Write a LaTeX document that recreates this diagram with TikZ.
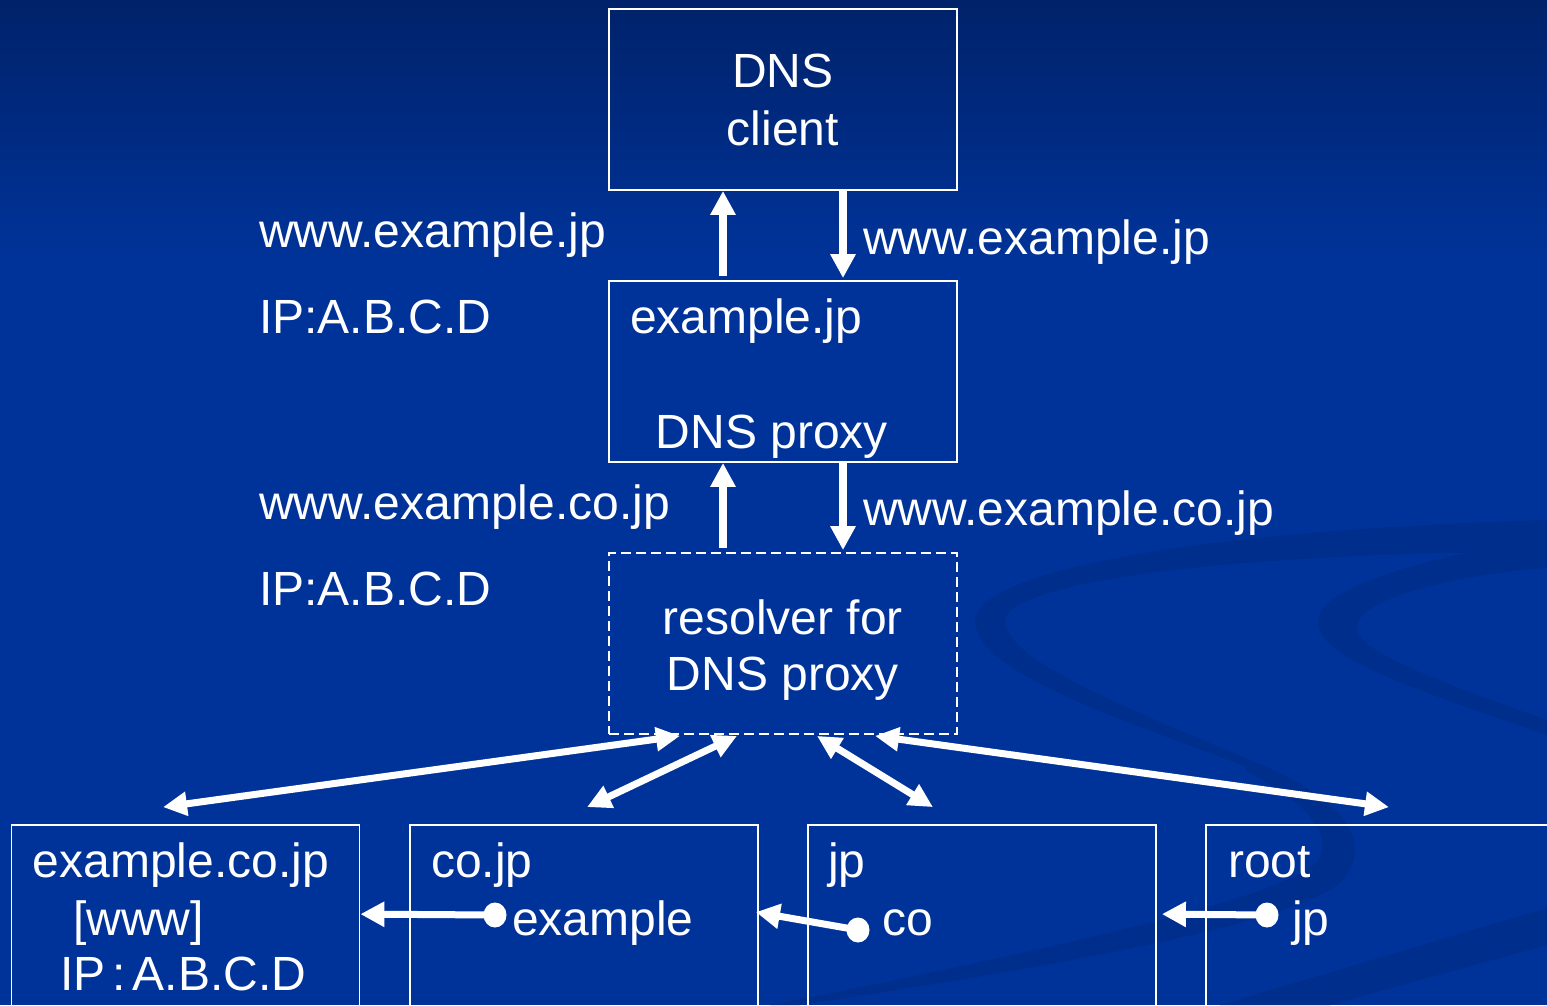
\documentclass[tikz,border=0pt]{standalone}
\usepackage{fontspec}
\setmainfont{Liberation Sans}
\usetikzlibrary{arrows.meta,calc,shapes.geometric}
\definecolor{bg}{RGB}{0,51,153}
\definecolor{bgtop}{RGB}{0,34,106}
\definecolor{sw}{RGB}{0,46,141}
\begin{document}
\begin{tikzpicture}[x=1pt,y=-1pt,
  box/.style={draw=white,line width=1.8pt,minimum width=348pt,minimum height=181pt,inner sep=0pt,text=white,align=center,font=\fontsize{48}{58}\selectfont},
  lowbox/.style={box,minimum height=220pt},
  lbl/.style={text=white,inner sep=0pt,font=\fontsize{48}{57}\selectfont},
  arr/.style={white,line width=8pt,-{Triangle[length=24pt,width=24pt]}},
  darr/.style={white,line width=7pt,{Triangle[length=24pt,width=23pt]}-{Triangle[length=24pt,width=23pt]}},
  dot/.style={ellipse,fill=white,minimum width=23pt,minimum height=25pt,inner sep=0pt}]
\useasboundingbox (0,0) rectangle (1547,1005);
\clip (0,0) rectangle (1547,1005);
% background
\fill[bg] (0,0) rectangle (1547,1005);
\shade[top color=bgtop,bottom color=bg] (0,0) rectangle (1547,260);
% swooshes
\fill[sw] (1547,520) .. controls (1200,530) and (980,570) .. (975,620)
  .. controls (975,670) and (1100,712) .. (1250,768)
  -- (1250,760) .. controls (1120,705) and (1005,660) .. (1005,620)
  .. controls (1010,580) and (1250,552) .. (1547,552) -- cycle;
\fill[sw] (1250,760) .. controls (1345,798) and (1372,840) .. (1345,878)
  .. controls (1310,918) and (1100,960) .. (800,1005) -- (770,1005)
  .. controls (1050,950) and (1295,895) .. (1318,860)
  .. controls (1335,830) and (1300,800) .. (1245,770) -- cycle;
\fill[sw] (1547,538) .. controls (1420,558) and (1320,588) .. (1318,620)
  .. controls (1318,650) and (1360,672) .. (1547,735) -- (1547,720)
  .. controls (1390,665) and (1355,645) .. (1357,625)
  .. controls (1360,600) and (1450,575) .. (1547,568) -- cycle;
\fill[sw] (1220,1005) -- (1547,908) -- (1547,945) -- (1330,1005) -- cycle;
% boxes
\node[box] (client) at (783,99.5) {DNS\\client};
\node[box] (proxy) at (783,371.5) {};
\node[box,dash pattern=on 10pt off 5pt] (res) at (783,643.5) {};
\node[lowbox] (b1) at (185.5,935) {};
\node[lowbox] (b2) at (584,935) {};
\node[lowbox] (b3) at (982,935) {};
\node[lowbox] (b4) at (1380,935) {};
% texts in boxes
\node[lbl,anchor=base west] (t1) at (630,333) {example.jp};
\node[lbl,anchor=base] (t2) at (772,448) {DNS proxy};
\node[lbl,anchor=base] (t3) at (783,634) {resolver for};
\node[lbl,anchor=base] (t4) at (783,690) {DNS proxy};
\node[lbl,anchor=base] (e1) at (181,877) {example.co.jp};
\node[lbl,anchor=base west] (e2) at (73,935) {[www]};
\node[lbl,anchor=base west] (e3) at (60,990) {IP\kern7pt:\kern7pt A.B.C.D};
\node[lbl,anchor=base west] (c1) at (431,877) {co.jp};
\node[lbl,anchor=base west] (c2) at (512,935) {example};
\node[lbl,anchor=base west] (j1) at (828,877) {jp};
\node[lbl,anchor=base west] (j2) at (882,935) {co};
\node[lbl,anchor=base west] (r1) at (1228,877) {root};
\node[lbl,anchor=base west] (r2) at (1292,935) {jp};
% side labels
\node[lbl,anchor=base west] (l1) at (259,247) {www.example.jp};
\node[lbl,anchor=base west] (l2) at (259,333) {IP:A.B.C.D};
\node[lbl,anchor=base west] (l3) at (863,254) {www.example.jp};
\node[lbl,anchor=base west] (l4) at (259,519) {www.example.co.jp};
\node[lbl,anchor=base west] (l5) at (259,605) {IP:A.B.C.D};
\node[lbl,anchor=base west] (l6) at (863,525) {www.example.co.jp};
% vertical arrows
\draw[arr] ($(proxy.north)+(-60,-4)$) -- ($(client.south)+(-60,0)$);
\draw[arr] ($(client.south)+(60,0)$) -- ($(proxy.north)+(60,-2)$);
\draw[arr] ($(res.north)+(-60,-4)$) -- ($(proxy.south)+(-60,0)$);
\draw[arr] ($(proxy.south)+(60,0)$) -- ($(res.north)+(60,-2)$);
% resolver to servers
\draw[darr] ($(res.south)+(-103,1)$) -- ($(b1.north)+(-22.5,-17)$);
\draw[darr] ($(res.south)+(-46,1)$) -- ($(b2.north)+(3,-17)$);
\draw[darr] ($(res.south)+(34,1)$) -- ($(b3.north)+(-49,-17)$);
\draw[darr] ($(res.south)+(92,1)$) -- ($(b4.north)+(9,-17)$);
% delegation pointers
\node[dot] (d1) at (495,915) {};
\node[dot] (d2) at (858,930) {};
\node[dot] (d3) at (1267,915) {};
\draw[arr,line width=7pt] (d1.center) -- ($(b1.north east)+(0,90)$);
\draw[arr,line width=7pt] (d2.center) -- ($(b2.north east)+(-3,88)$);
\draw[arr,line width=7pt] (d3.center) -- ($(b3.north east)+(5,90)$);
\end{tikzpicture}
\end{document}
